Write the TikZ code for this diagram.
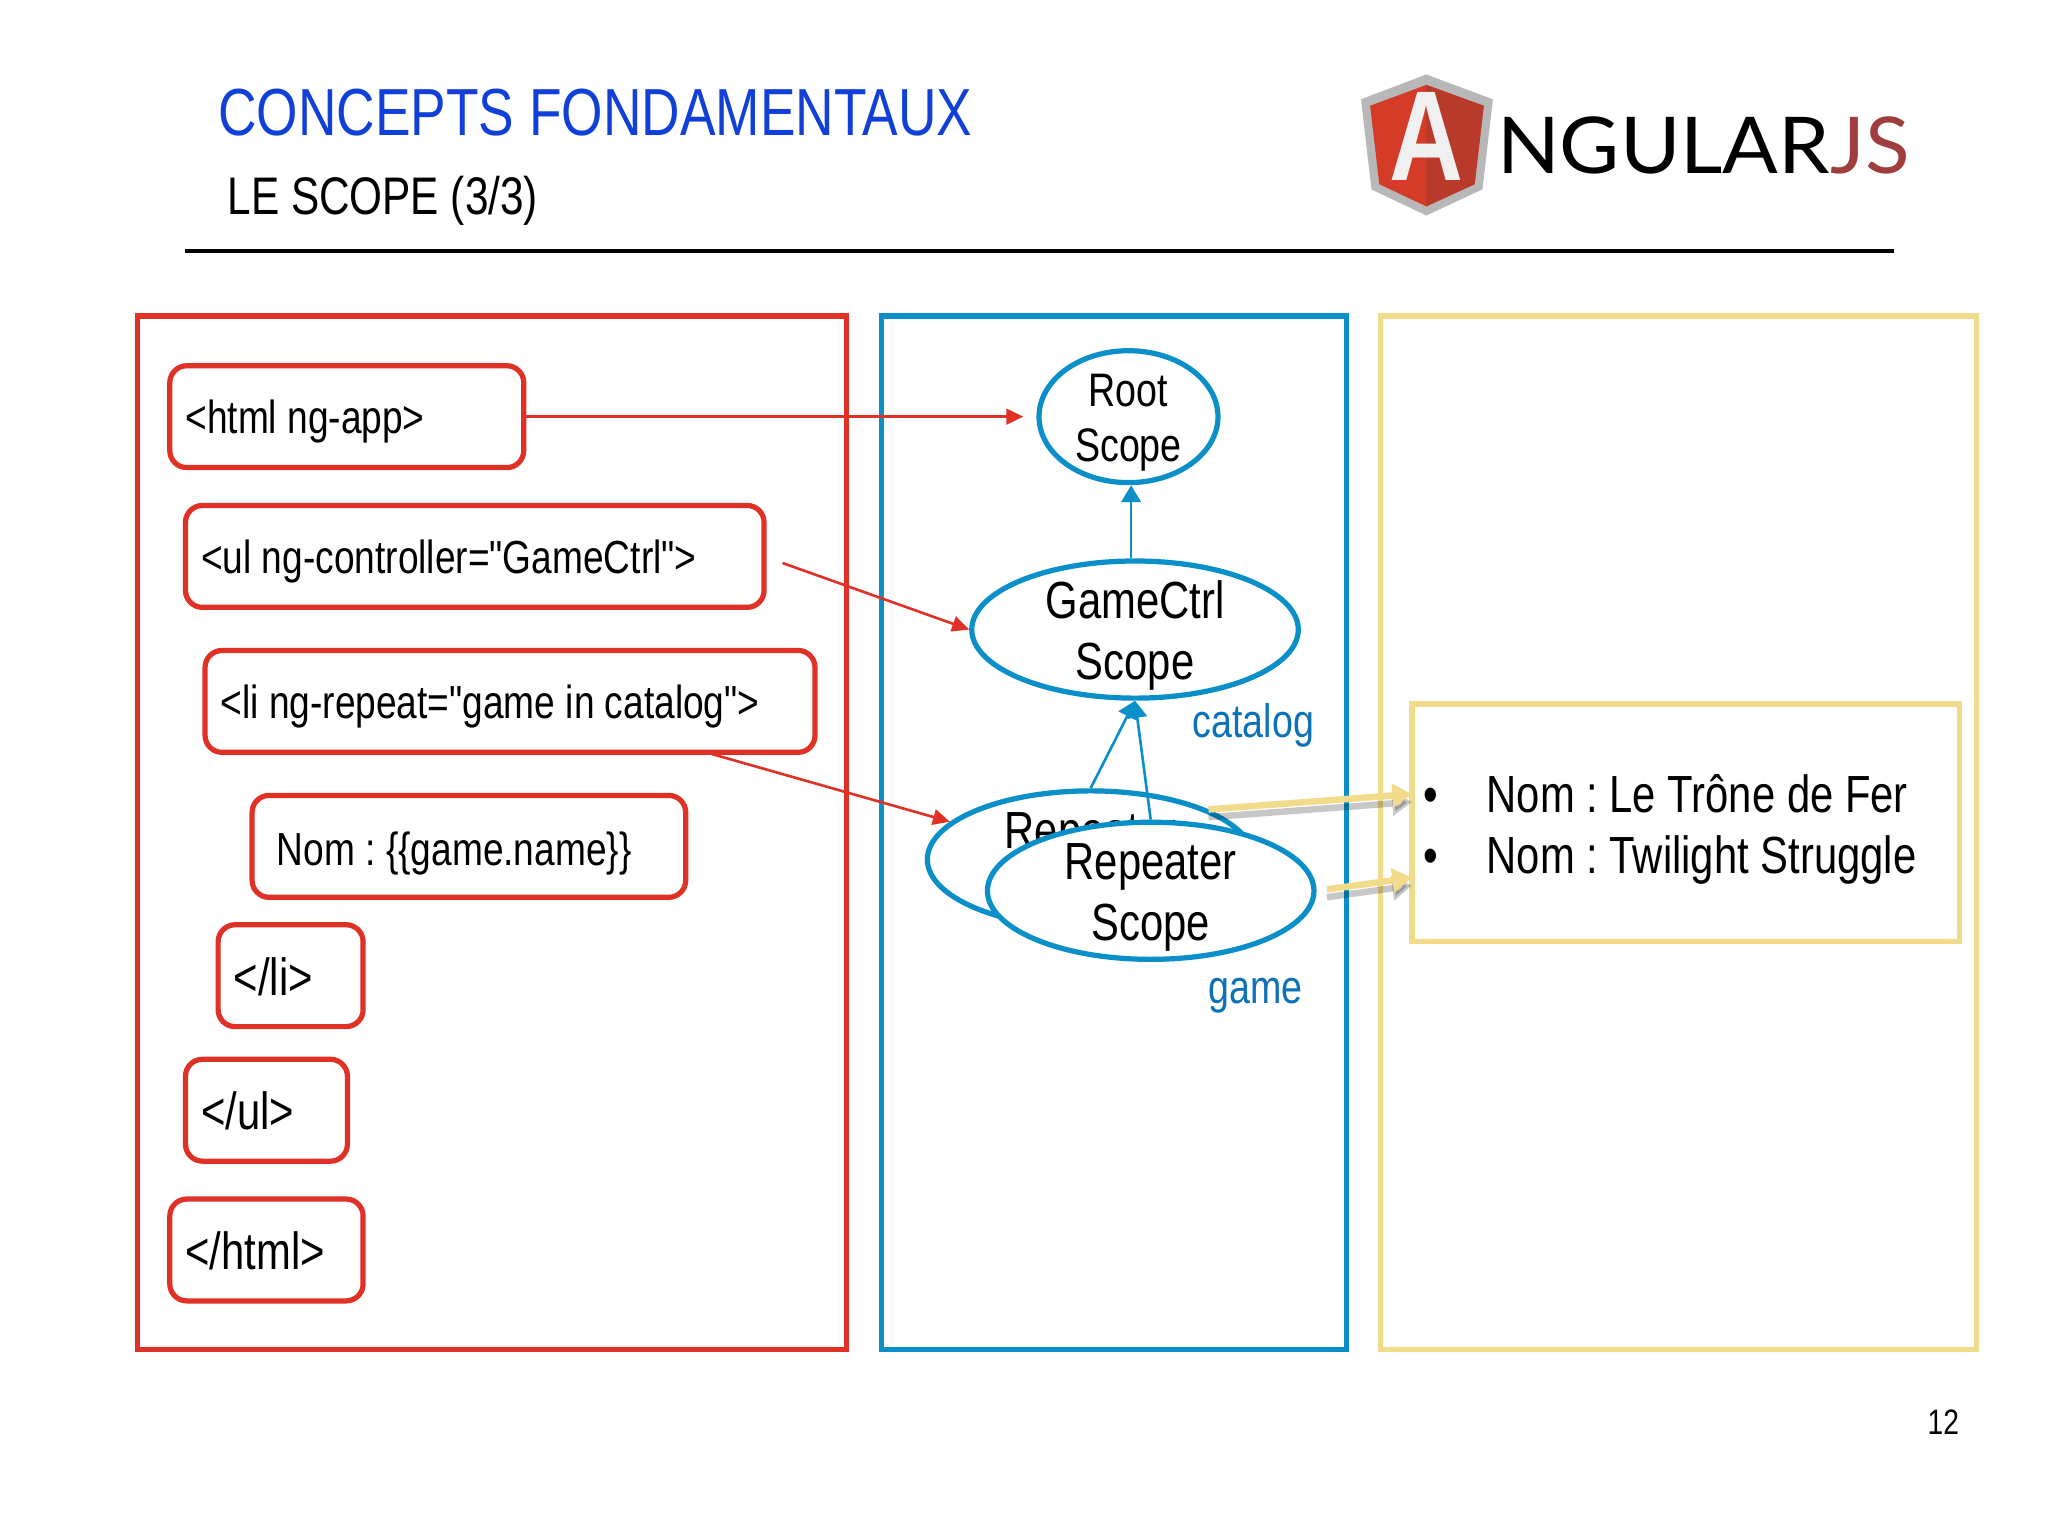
\documentclass[tikz,border=0pt]{standalone}
\usepackage{fontspec}
\setmainfont[FakeStretch=0.8,Ligatures=TeXOff]{Liberation Sans}
\newfontfamily\logofont[FakeStretch=1.05]{Lato}
\usetikzlibrary{arrows.meta,shapes.geometric}
\definecolor{tagred}{HTML}{E03127}
\definecolor{scopeblue}{HTML}{0A8FC8}
\definecolor{labelblue}{HTML}{0B72B9}
\definecolor{viewyellow}{HTML}{F2DC8C}
\definecolor{titleblue}{HTML}{1040D8}
\definecolor{shieldleft}{HTML}{D53C28}
\definecolor{shieldright}{HTML}{B83A2B}
\definecolor{jsred}{HTML}{A03E3E}
\newcommand{\droptext}{\rule{0pt}{.95em}}
\tikzstyle{tag box}=[
    draw = tagred,
    line width = 4pt,
    rounded corners = 13pt,
    fill = white,
    anchor = west,
    align = flush left,
    outer sep = 0pt,
    inner xsep = 12pt,
    inner ysep = 0pt,
    minimum height = 78pt,
    text height = 32pt,
    text depth = 6pt,
    font = \fontsize{35.5}{42}\selectfont
]
\tikzstyle{end tag}=[
    tag box,
    text height = 36pt,
    font = \fontsize{40}{45}\selectfont
]
\tikzstyle{scope}=[
    draw = scopeblue,
    line width = 4pt,
    fill = white,
    ellipse,
    align = center,
    inner xsep = 0pt,
    inner ysep = -12pt,
    minimum width = 250pt,
    minimum height = 105pt,
    font = \fontsize{40}{47}\selectfont
]
\tikzstyle{panel}=[
    line width = 4pt,
    line join = miter
]
\tikzstyle{blue label}=[
    text = labelblue,
    anchor = base west,
    inner sep = 0pt,
    font = \fontsize{36}{42}\selectfont
]
\tikzstyle{red link}=[
    draw = tagred,
    line width = 2pt,
    -{Triangle[length=13pt,width=12pt]}
]
\tikzstyle{blue link}=[
    draw = scopeblue,
    line width = 2pt,
    -{Triangle[length=13pt,width=15pt]}
]
\tikzstyle{yellow link}=[
    draw = viewyellow,
    line width = 5pt,
    -{Triangle[length=15pt,width=18pt]}
]
\tikzstyle{yellow shadow}=[
    draw = black,
    opacity = .22,
    line width = 5pt,
    -{Triangle[length=15pt,width=18pt]}
]
\tikzstyle{item}=[
    anchor = base west,
    inner sep = 0pt,
    font = \fontsize{40}{47}\selectfont
]
\begin{document}
\frenchspacing
\begin{tikzpicture}[x=1pt, y=-1pt]
    \useasboundingbox (0,0) rectangle (1568,1176);

    % header
    \node[anchor=base west, inner sep=0pt, text=titleblue, font=\fontsize{51}{58}\selectfont] (title) at (167,104) {CONCEPTS FONDAMENTAUX};
    \node[anchor=base west, inner sep=0pt, font=\fontsize{40.5}{45}\selectfont] (subtitle) at (174,164) {LE SCOPE (3/3)};
    \draw[line width=3pt] (142,192) -- (1450,192);

    % logo
    \fill[black!28] (1092,57) -- (1143,76) -- (1135,145) -- (1092,165) -- (1050,145) -- (1042,76) -- cycle;
    \fill[shieldleft] (1092,65) -- (1136,81) -- (1129,141) -- (1092,158) -- (1056,141) -- (1049,81) -- cycle;
    \fill[shieldright] (1092,65) -- (1136,81) -- (1129,141) -- (1092,158) -- cycle;
    \node[inner sep=0pt, anchor=base, text=black!6, font=\bfseries\fontsize{98}{98}\selectfont] (logoa) at (1092,138) {A};
    \node[anchor=base west, inner sep=0pt, font=\logofont\fontsize{60}{60}\selectfont] (ngular) at (1146,133) {NGULAR};
    \node[anchor=base west, inner sep=0pt, text=jsred, font=\logofont\fontsize{60}{60}\selectfont] (js) at (ngular.base east) {JS};

    % panels
    \draw[panel, draw=tagred] (105,242) rectangle (648,1033);
    \draw[panel, draw=scopeblue] (675,242) rectangle (1031,1033);
    \draw[panel, draw=viewyellow] (1057,242) rectangle (1513,1033);

    % template
    \node[tag box, text width=247pt] (html) at (130,319) {<html ng-app>};
    \node[tag box, text width=419pt] (ul) at (142,426) {<ul ng-controller="GameCtrl">};
    \node[tag box, text width=443pt] (li) at (157,537) {<li ng-repeat="game in catalog">};
    \node[tag box, text width=308pt, text height=36pt] (nom) at (193,648) {\hspace{7pt}Nom : \{\{game.name\}\}};
    \node[end tag, text width=87pt] (endli) at (167,747) {</li>};
    \node[end tag, text width=100pt] (endul) at (142,850) {</ul>};
    \node[end tag, text width=124pt] (endhtml) at (130,957) {</html>};

    % scopes
    \node[scope, minimum width=137pt, minimum height=101pt, font=\fontsize{36}{42}\selectfont] (root) at (864,319) {\droptext Root\\Scope};
    \node[scope] (gamectrl) at (869,482) {\droptext GameCtrl\\Scope};
    \node[scope] (repeatback) at (835,658) {\droptext Repeater\\Scope};
    \draw[blue link] ([xshift=-3pt]gamectrl.north) -- ([xshift=2pt]root.south);
    \draw[blue link] (repeatback.north) -- (gamectrl.south);
    \node[scope] (repeatfront) at (881,682) {\droptext Repeater\\Scope};
    \draw[blue link] (repeatfront.north) -- (gamectrl.south);
    \node[blue label] (catalog) at (913,565) {catalog};
    \node[blue label] (game) at (925,768) {game};

    % view
    \node[draw=viewyellow, line width=4pt, fill=white, minimum width=419pt, minimum height=182pt, inner sep=0pt, outer sep=0pt] (view) at (1290.5,630) {};
    \node[item] (item1) at (1090,622) {\makebox[48pt][l]{\textbullet}Nom : Le Trône de Fer};
    \node[item] (item2) at (1090,669) {\makebox[48pt][l]{\textbullet}Nom : Twilight Struggle};

    \draw[red link] (html.east) -- ([xshift=-10pt]root.west);
    \draw[red link, shorten <=15pt] (ul.east) -- (gamectrl.west);
    \draw[red link] ([xshift=150pt]li.south) -- (repeatback.165);

    \coordinate (feeda) at ([yshift=22pt]view.west);
    \coordinate (feedb) at ([yshift=-42pt]view.west);
    \draw[yellow shadow, transform canvas={yshift=-6pt}] (repeatback.23) -- (feeda);
    \draw[yellow shadow, transform canvas={yshift=-6pt}, shorten <=8pt] (repeatfront.east) -- (feedb);
    \draw[yellow link] (repeatback.23) -- (feeda);
    \draw[yellow link, shorten <=8pt] (repeatfront.east) -- (feedb);

    \node[anchor=base east, inner sep=0pt, font=\fontsize{27}{32}\selectfont] (page) at (1500,1098) {12};
\end{tikzpicture}
\end{document}
